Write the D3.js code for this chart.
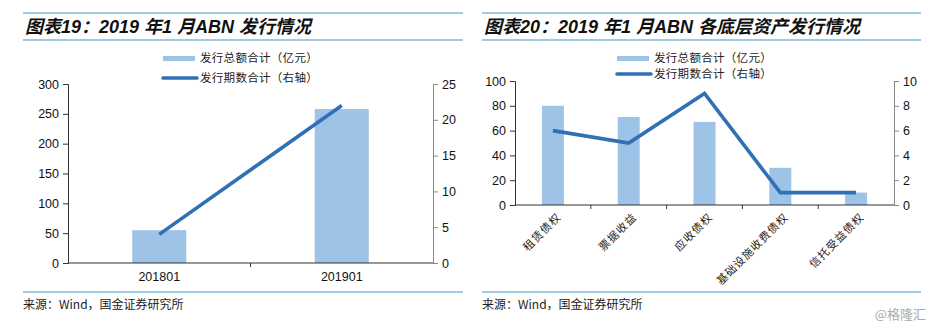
<!DOCTYPE html>
<html><head><meta charset="utf-8">
<script src="https://cdn.jsdelivr.net/npm/d3@7"></script>
<style>
body{margin:0;background:#fff;}
svg{display:block;}
</style></head>
<body>
<svg id="c" width="933" height="327"></svg>
<script>
// Chart 19 data
const cats1 = ["201801", "201901"];
const amount1 = [55, 258];
const count1 = [4, 22];
const leftTicks1 = [0, 50, 100, 150, 200, 250, 300];
const rightTicks1 = [0, 5, 10, 15, 20, 25];

// Chart 20 data
const cats2 = ["租赁债权", "票据收益", "应收债权", "基础设施收费债权", "信托受益债权"];
const amount2 = [80, 71, 67, 30, 10];
const count2 = [6, 5, 9, 1, 1];
const leftTicks2 = [0, 20, 40, 60, 80, 100];
const rightTicks2 = [0, 2, 4, 6, 8, 10];

const titles = ["图表19：2019 年1 月ABN 发行情况", "图表20：2019 年1 月ABN 各底层资产发行情况"];
const legendNames = ["发行总额合计（亿元）", "发行期数合计（右轴）"];
const sourceText = "来源：Wind，国金证券研究所";

const BAR = "#9dc3e6", LINE = "#3170b5", RULE = "#3a96c8";
const NUM_FONT = "'Liberation Sans', Arial, sans-serif";
const CJK_FONT = "'Noto Sans CJK SC', sans-serif";

const svg = d3.select("#c");

function panel(o) {
  const g = svg.append("g");
  // rules
  [13, 40, 292].forEach(y => g.append("line").attr("x1", o.rx0).attr("x2", o.rx1)
    .attr("y1", y).attr("y2", y).attr("stroke", RULE).attr("stroke-width", 1.2));
  g.append("text").attr("x", o.rx0 + 2).attr("y", 33).text(o.title)
    .attr("font-family", "'Liberation Sans', 'Noto Sans CJK SC', sans-serif")
    .attr("font-weight", "bold").attr("font-style", "italic").attr("font-size", 18).attr("fill", "#111");
  g.append("text").attr("x", o.rx0).attr("y", 309).text(sourceText)
    .attr("font-family", CJK_FONT).attr("font-size", 12).attr("fill", "#222");

  const x = d3.scaleBand().domain(o.cats).range([o.x0, o.x1]);
  const yL = d3.scaleLinear().domain([0, o.lmax]).range([o.y1, o.y0]);
  const yR = d3.scaleLinear().domain([0, o.rmax]).range([o.y1, o.y0]);

  // bars
  const bw = x.bandwidth() * o.barFrac;
  g.selectAll(".bar").data(o.amount).enter().append("rect")
    .attr("x", (d, i) => x(o.cats[i]) + x.bandwidth() / 2 - bw / 2)
    .attr("y", d => yL(d)).attr("width", bw).attr("height", d => yL(0) - yL(d))
    .attr("fill", BAR);

  // left axis
  const la = g.append("g").attr("transform", `translate(${o.x0},0)`)
    .call(d3.axisLeft(yL).tickValues(o.lt).tickSize(5).tickPadding(4));
  la.select(".domain").attr("stroke", "#333");
  la.selectAll(".tick line").attr("stroke", "#333");
  la.selectAll("text").attr("font-family", NUM_FONT).attr("font-size", 12.5).attr("fill", "#111");
  // right axis
  const ra = g.append("g").attr("transform", `translate(${o.x1},0)`)
    .call(d3.axisRight(yR).tickValues(o.rt).tickSize(5).tickPadding(4));
  ra.select(".domain").attr("stroke", "#888");
  ra.selectAll(".tick line").attr("stroke", "#888");
  ra.selectAll("text").attr("font-family", NUM_FONT).attr("font-size", 12.5).attr("fill", "#111");
  // bottom axis: ticks at band boundaries
  g.append("line").attr("x1", o.x0).attr("x2", o.x1).attr("y1", o.y1).attr("y2", o.y1)
    .attr("stroke", "#333");
  const bounds = o.cats.slice(1).map(c => x(c));
  g.selectAll(".xt").data(bounds).enter().append("line")
    .attr("x1", d => d).attr("x2", d => d).attr("y1", o.y1).attr("y2", o.y1 + 4).attr("stroke", "#333");

  // x labels
  if (o.rotate) {
    g.selectAll(".xl").data(o.cats).enter().append("text")
      .attr("transform", d => `translate(${x(d) + x.bandwidth() / 2 + 6},${o.y1 + 10}) rotate(-45)`)
      .attr("text-anchor", "end").attr("dy", "0.35em").text(d => d)
      .attr("font-family", CJK_FONT).attr("font-size", 11).attr("letter-spacing", 1)
      .attr("fill", "#222");
  } else {
    g.selectAll(".xl").data(o.cats).enter().append("text")
      .attr("x", d => x(d) + x.bandwidth() / 2).attr("y", o.y1 + 18)
      .attr("text-anchor", "middle").text(d => d)
      .attr("font-family", NUM_FONT).attr("font-size", 12.5).attr("fill", "#111");
  }

  // line
  const line = d3.line().x((d, i) => x(o.cats[i]) + x.bandwidth() / 2).y(d => yR(d));
  g.append("path").datum(o.count).attr("d", line).attr("fill", "none")
    .attr("stroke", LINE).attr("stroke-width", 3.6).attr("stroke-linejoin", "miter");

  // legend
  const lg = g.append("g");
  lg.append("rect").attr("x", o.lgx).attr("y", 56).attr("width", 32).attr("height", 5).attr("fill", BAR);
  lg.append("text").attr("x", o.lgx + 37).attr("y", 58).attr("dy", "0.35em").text(legendNames[0])
    .attr("font-family", CJK_FONT).attr("font-size", 11.5).attr("letter-spacing", 0.3).attr("fill", "#222");
  lg.append("line").attr("x1", o.lgx).attr("x2", o.lgx + 34).attr("y1", o.lg2y).attr("y2", o.lg2y)
    .attr("stroke", LINE).attr("stroke-width", 3.6).attr("stroke-linecap", "round");
  lg.append("text").attr("x", o.lgx + 37).attr("y", o.lg2y).attr("dy", "0.35em").text(legendNames[1])
    .attr("font-family", CJK_FONT).attr("font-size", 11.5).attr("letter-spacing", 0.3).attr("fill", "#222");
}

panel({ cats: cats1, amount: amount1, count: count1, lt: leftTicks1, rt: rightTicks1,
  lmax: 300, rmax: 25, x0: 68, x1: 433, y0: 84, y1: 263, barFrac: 0.296,
  rx0: 23, rx1: 463, title: titles[0], rotate: false, lgx: 163, lg2y: 78 });
panel({ cats: cats2, amount: amount2, count: count2, lt: leftTicks2, rt: rightTicks2,
  lmax: 100, rmax: 10, x0: 515, x1: 894, y0: 81, y1: 205, barFrac: 0.29,
  rx0: 482, rx1: 921, title: titles[1], rotate: true, lgx: 617, lg2y: 74 });

svg.append("text").attr("x", 926).attr("y", 319).attr("text-anchor", "end").text("@格隆汇")
  .attr("font-family", CJK_FONT).attr("font-size", 13).attr("fill", "#aaa");
</script>
</body></html>
